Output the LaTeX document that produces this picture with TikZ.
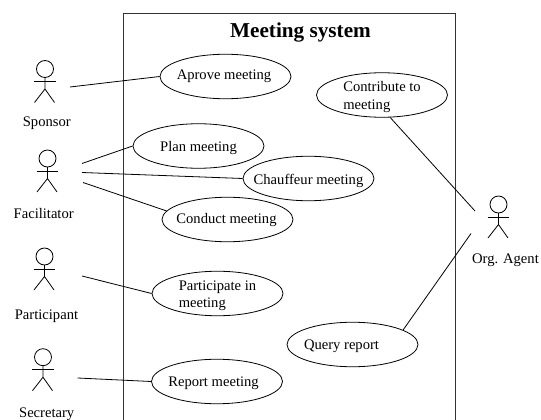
\documentclass[tikz,border=0pt]{standalone}
\usepackage{fontspec}
\setmainfont{Liberation Serif}
\usetikzlibrary{shapes.geometric}
\newcommand\uctext[3][0]{\kern#1pt\raisebox{-#2pt}[0pt][0pt]{\begin{tabular}[t]{@{}l@{}}#3\end{tabular}}}
\tikzset{
  usecase/.style={draw=black,line width=0.8pt,ellipse,minimum width=131pt,minimum height=44.5pt,inner xsep=-50pt,inner ysep=0pt,font=\fontsize{14.6}{17.6}\selectfont,fill=white},
  actorlabel/.style={font=\fontsize{14.6}{17}\selectfont,inner sep=0pt,anchor=base},
  assoc/.style={draw=black,line width=0.8pt},
  pics/stick/.style={code={
    \draw[line width=0.8pt] (0,-12.5) circle (8.5pt);
    \draw[line width=0.8pt] (-11,0) -- (10.5,0);
    \draw[line width=0.8pt] (0,-4) -- (0,7.5) (-10.5,21) -- (0,7.5) -- (9.5,21);
  }}
}
\begin{document}
\begin{tikzpicture}[x=1pt,y=-1pt]
\useasboundingbox (0,0) rectangle (541,420);
\fill[white] (0,0) rectangle (541,420);
% system boundary
\draw[line width=0.9pt,draw=black!80] (123.3,421) -- (123.3,13.3) -- (455,13.3) -- (455,421);
\node[font=\fontsize{21.2}{24}\selectfont\bfseries,inner sep=0pt,anchor=base] (title) at (300.5,37.3) {Meeting system};
% actors
\pic at (45,81.5) {stick};
\pic at (47.5,171) {stick};
\pic at (44.5,269) {stick};
\pic at (43,369.7) {stick};
\pic at (498.5,217) {stick};
\node[actorlabel] (sponsor) at (46.8,126) {Sponsor};
\node[actorlabel] (facilitator) at (43.7,218.3) {Facilitator};
\node[actorlabel] (participant) at (46.5,319) {Participant};
\node[actorlabel] (secretary) at (46.7,417) {Secretary};
\node[actorlabel] (agent) at (505.5,263.3) {Org. Agent};
% use cases
\node[usecase] (aprove) at (225.5,76.5) {\uctext[-3]{3.5}{Aprove meeting}};
\node[usecase] (plan) at (198.5,146) {\uctext{5.7}{Plan meeting}};
\node[usecase] (chauffeur) at (308.5,178.5) {\uctext{5.8}{Chauffeur meeting}};
\node[usecase] (conduct) at (227.5,219.5) {\uctext[-2]{3.8}{Conduct meeting}};
\node[usecase] (participate) at (217.5,293.5) {\uctext{-3.5}{Participate in\\meeting}};
\node[usecase] (report) at (217,381.5) {\uctext[-7]{4.5}{Report meeting}};
\node[usecase] (contribute) at (382,95) {\uctext{-3.3}{Contribute to\\meeting}};
\node[usecase] (query) at (352.5,344.5) {\uctext[-22]{4.5}{Query report}};
% free ends
\coordinate (aS) at (70,87);
\coordinate (aF1) at (82,163.5);
\coordinate (aF2) at (82,172.5);
\coordinate (aF3) at (83,182.5);
\coordinate (aP) at (82,276);
\coordinate (aR) at (77.5,378);
\coordinate (aO1) at (475,211);
\coordinate (aO2) at (471,233.5);
% connectors
\draw[assoc] (aS) -- (aprove.west);
\draw[assoc] (aF1) -- (plan.west);
\draw[assoc] (aF2) -- (chauffeur.west);
\draw[assoc] (aF3) -- (conduct.172);
\draw[assoc] (aP) -- (participate.west);
\draw[assoc] (aR) -- (report.west);
\draw[assoc] (contribute.290) -- (aO1);
\draw[assoc] (query.16) -- (aO2);
\end{tikzpicture}
\end{document}
